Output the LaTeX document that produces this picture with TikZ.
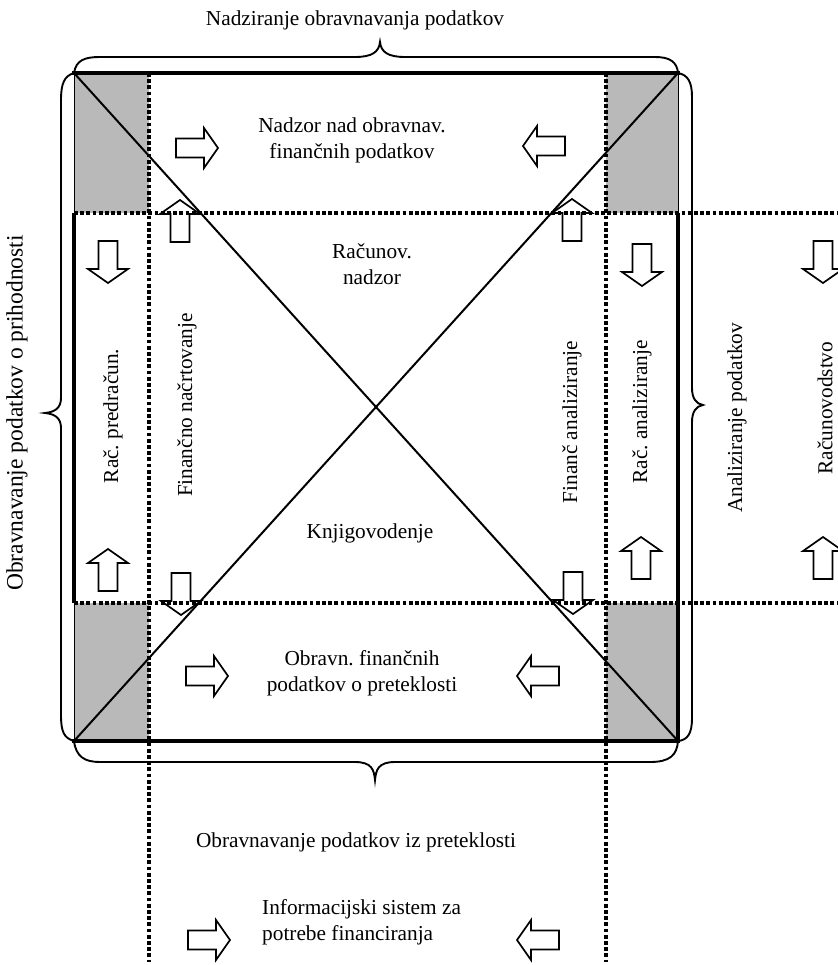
\documentclass[tikz,border=0pt]{standalone}
\usepackage{fontspec}
\setmainfont{Liberation Serif}
\frenchspacing
\newcommand\barrow[4]{\draw[barrowstyle, shift={(#2,#3)}, rotate=#4] (-21,-9.5) -- (7,-9.5) -- (7,-20) -- (21,0) -- (7,20) -- (7,9.5) -- (-21,9.5) -- cycle;}
\begin{document}
\begin{tikzpicture}[x=1pt,y=-1pt,
  lbl/.style={font=\fontsize{21.3}{26}\selectfont, inner sep=0pt, align=center},
  rlbl/.style={lbl, rotate=90},
  dotline/.style={line width=4.5pt, dash pattern=on 3.8pt off 2.4pt},
  thickedge/.style={line width=4.5pt},
  thinedge/.style={line width=1pt},
  diag/.style={line width=2pt},
  bracel/.style={line width=1.9pt},
  shade/.style={fill=gray!55},
  barrowstyle/.style={draw, line width=1.7pt, line join=miter}]
\useasboundingbox (0,0) rectangle (837,965);
% corners of the frame
\coordinate (tl) at (74,73);
\coordinate (tr) at (678,73);
\coordinate (bl) at (74,741);
\coordinate (br) at (678,741);
% shaded corner cells
\fill[shade] (74,73) rectangle (149,213);
\fill[shade] (606,73) rectangle (678,213);
\fill[shade] (74,603) rectangle (149,741);
\fill[shade] (606,603) rectangle (678,741);
% dotted grid lines
\coordinate (v1a) at (149,73);  \coordinate (v1b) at (149,962);
\coordinate (v2a) at (606,73);  \coordinate (v2b) at (606,962);
\coordinate (h1a) at (74,213);  \coordinate (h1b) at (837,213);
\coordinate (h2a) at (74,603);  \coordinate (h2b) at (837,603);
\draw[dotline] (v1a) -- (v1b);
\draw[dotline] (v2a) -- (v2b);
\draw[dotline] (h1a) -- (h1b);
\draw[dotline] (h2a) -- (h2b);
% frame
\draw[thinedge] (tl) -- (bl);
\draw[thinedge] (tr) -- (br);
\draw[thickedge] (72,73) -- (680,73);
\draw[thickedge] (72,741) -- (680,741);
\draw[thickedge] (74,213) -- (74,603);
\draw[thickedge] (678,213) -- (678,743);
% diagonals
\draw[diag] (tl) -- (br);
\draw[diag] (tr) -- (bl);
% block arrows
\barrow{a1}{197}{148}{0}
\barrow{a2}{544}{146}{180}
\barrow{a3}{180}{221}{90}
\barrow{a4}{572}{220}{90}
\barrow{a5}{108}{262}{-90}
\barrow{a6}{642}{265}{-90}
\barrow{a7}{823}{262}{-90}
\barrow{a8}{108}{570}{90}
\barrow{a9}{181}{594}{-90}
\barrow{a10}{573}{593}{-90}
\barrow{a11}{641}{558}{90}
\barrow{a12}{823}{558}{90}
\barrow{a13}{207}{676}{0}
\barrow{a14}{538}{676}{180}
\barrow{a15}{209}{940}{0}
\barrow{a16}{538}{940}{180}
% braces
\draw[bracel] (tl) .. controls (76,60) and (85,57) .. (100,57) -- (355,57)
  .. controls (372,57) and (379,52) .. (380,42) .. controls (381,52) and (388,57) .. (405,57)
  -- (655,57) .. controls (670,57) and (677,62) .. (tr);
\draw[bracel] (tr) .. controls (688,75) and (692,82) .. (692,97) -- (692,388)
  .. controls (692,398) and (696,404) .. (703,405) .. controls (696,406) and (692,412) .. (692,422)
  -- (692,718) .. controls (692,733) and (688,740) .. (br);
\draw[bracel] (bl) .. controls (76,757) and (85,762) .. (100,762) -- (355,762)
  .. controls (372,762) and (374,770) .. (375,780) .. controls (376,770) and (378,762) .. (395,762)
  -- (650,762) .. controls (670,762) and (677,755) .. (br);
\draw[bracel] (tl) .. controls (64,76) and (61,84) .. (61,100) -- (61,398)
  .. controls (61,408) and (55,412) .. (45,413) .. controls (55,414) and (61,418) .. (61,428)
  -- (61,715) .. controls (61,732) and (64,738) .. (bl);
% texts
\node[lbl] (title) at (355,20) {Nadziranje obravnavanja podatkov};
\node[lbl] (nadzor) at (352,140) {Nadzor nad obravnav.\\finančnih podatkov};
\node[lbl] (racnad) at (372,264) {Računov.\\nadzor};
\node[lbl] (knjig) at (370,533) {Knjigovodenje};
\node[lbl] (obrfin) at (362,673) {Obravn. finančnih\\podatkov o preteklosti};
\node[lbl] (obrpre) at (356,842) {Obravnavanje podatkov iz preteklosti};
\node[lbl, align=left, anchor=west] (infsis) at (262,922) {Informacijski sistem za\\potrebe financiranja};
\node[rlbl] (racpred) at (113,416) {Rač. predračun.};
\node[rlbl] (finnac) at (187,405) {Finančno načrtovanje};
\node[rlbl] (finanl) at (572,422) {Finanč analiziranje};
\node[rlbl] (racanl) at (642,412) {Rač. analiziranje};
\node[rlbl] (analpod) at (737,418) {Analiziranje podatkov};
\node[rlbl] (racun) at (825,408) {Računovodstvo};
\node[rlbl, font=\fontsize{23.5}{28}\selectfont] (obrprih) at (17,413) {Obravnavanje podatkov o prihodnosti};
\end{tikzpicture}
\end{document}
